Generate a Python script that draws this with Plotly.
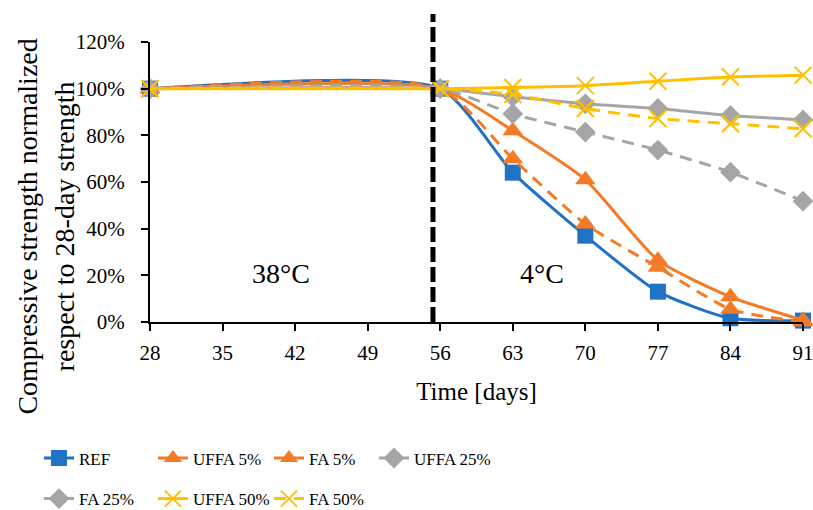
import plotly.graph_objects as go

days = [28, 56, 63, 70, 77, 84, 91]
ref = [1.00, 1.00, 0.64, 0.37, 0.13, 0.016, 0.006]
uffa5 = [1.00, 1.00, 0.82, 0.61, 0.265, 0.108, 0.008]
fa5 = [1.00, 1.00, 0.70, 0.42, 0.235, 0.055, 0.0]
uffa25 = [1.00, 1.00, 0.965, 0.935, 0.915, 0.885, 0.866]
fa25 = [1.00, 1.00, 0.892, 0.814, 0.737, 0.642, 0.518]
uffa50 = [1.00, 1.00, 1.005, 1.013, 1.032, 1.05, 1.058]
fa50 = [1.00, 1.00, 0.975, 0.915, 0.872, 0.85, 0.828]

series = [
    ("REF", ref, "#1F72C6", "solid", "square", 16),
    ("UFFA 5%", uffa5, "#F47B25", "solid", "triangle-up", 18),
    ("FA 5%", fa5, "#F47B25", "12px,8px", "triangle-up", 18),
    ("UFFA 25%", uffa25, "#A5A5A5", "solid", "diamond", 16),
    ("FA 25%", fa25, "#A5A5A5", "12px,8px", "diamond", 16),
    ("UFFA 50%", uffa50, "#FFC000", "solid", "x-thin", 17),
    ("FA 50%", fa50, "#FFC000", "12px,8px", "x-thin", 17),
]
# legend slot positions (paper coords): (x, y)
legend_pos = [(-0.1700, -0.423), (0.0045, -0.423), (0.1822, -0.423), (0.3430, -0.423),
              (-0.1700, -0.568), (0.0045, -0.568), (0.1822, -0.568)]

x_ticks = [28, 35, 42, 49, 56, 63, 70, 77, 84, 91]
y_ticks = [0, 0.2, 0.4, 0.6, 0.8, 1.0, 1.2]
y_labels = ["0%", "20%", "40%", "60%", "80%", "100%", "120%"]
divider_day = 55.3

FONT = "Liberation Serif, serif"

fig = go.Figure()
legend_layout = {}
for i, (name, vals, color, dash, sym, size) in enumerate(series):
    if sym == "x-thin":
        marker = dict(symbol=sym, size=size, color=color, line=dict(color=color, width=2))
    else:
        marker = dict(symbol=sym, size=size, color=color, line=dict(width=0))
    leg = "legend" if i == 0 else f"legend{i + 1}"
    fig.add_trace(go.Scatter(
        x=days, y=vals, name=name, mode="lines+markers", legend=leg,
        line=dict(color=color, width=3, dash=dash, shape="spline", smoothing=0.6),
        marker=marker, cliponaxis=False,
    ))
    lx, ly = legend_pos[i]
    legend_layout[leg] = dict(x=lx, y=ly, xanchor="left", yanchor="top", orientation="h",
                              font=dict(family=FONT, size=17, color="black"),
                              bgcolor="rgba(0,0,0,0)")

fig.add_shape(type="line", xref="x", yref="paper", x0=divider_day, x1=divider_day,
              y0=0, y1=1.1, line=dict(color="black", width=5, dash="15px,5px"))

fig.add_annotation(x=40.6, y=0.21, xref="x", yref="y", text="38°C", showarrow=False,
                   font=dict(family=FONT, size=28, color="black"))
fig.add_annotation(x=65.8, y=0.21, xref="x", yref="y", text="4°C", showarrow=False,
                   font=dict(family=FONT, size=28, color="black"))
fig.add_annotation(x=-0.160, y=0.339, xref="paper", yref="paper", textangle=-90,
                   text="Compressive strength normalized<br>respect to 28-day strength",
                   showarrow=False, xanchor="center", yanchor="middle",
                   font=dict(family=FONT, size=28, color="black"))

tickfont = dict(family=FONT, size=21, color="black")

fig.update_layout(
    width=813, height=510,
    margin=dict(l=150, r=10, t=42, b=188, autoexpand=False),
    paper_bgcolor="white", plot_bgcolor="white",
    font=dict(family=FONT, size=21, color="black"),
    showlegend=True,
    **legend_layout,
    xaxis=dict(range=[28, 91], tickvals=x_ticks, ticktext=[str(v) for v in x_ticks],
               tickfont=tickfont, ticklabeloverflow="allow",
               showgrid=False, zeroline=False, showline=True, linecolor="black", linewidth=2,
               ticks="outside", ticklen=7, tickwidth=2, tickcolor="black",
               ticklabelstandoff=4,
               title=dict(text="Time [days]", font=dict(family=FONT, size=25, color="black"),
                          standoff=18)),
    yaxis=dict(range=[0, 1.2], tickvals=y_ticks, ticktext=y_labels, tickfont=tickfont,
               ticklabeloverflow="allow",
               showgrid=False, zeroline=False, showline=True, linecolor="black", linewidth=2,
               ticks="outside", ticklen=7, tickwidth=2, tickcolor="black",
               ticklabelstandoff=12),
    xaxis2=dict(overlaying="x", anchor="y", side="bottom", range=[28, 91], tickvals=x_ticks,
                showticklabels=False, showgrid=False, zeroline=False, showline=False,
                ticks="inside", ticklen=6, tickwidth=2, tickcolor="black"),
    yaxis2=dict(overlaying="y", anchor="x", side="left", range=[0, 1.2], tickvals=y_ticks,
                showticklabels=False, showgrid=False, zeroline=False, showline=False,
                ticks="inside", ticklen=6, tickwidth=2, tickcolor="black"),
)

fig.write_html("out.html", config={"displayModeBar": False},
               post_script="document.body.style.margin='0';document.body.style.overflow='hidden';")
